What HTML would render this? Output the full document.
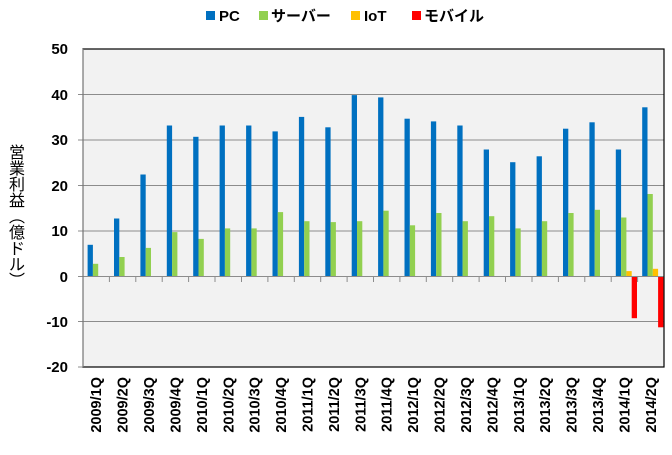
<!DOCTYPE html>
<html><head><meta charset="utf-8"><style>
body{margin:0;background:#fff;width:672px;height:455px;overflow:hidden;font-family:"Liberation Sans","Noto Sans CJK JP",sans-serif}
.c{position:absolute;left:7px;width:20px;text-align:center;font-size:16px;line-height:16px;font-family:"Noto Sans CJK JP",sans-serif;color:#000}
</style></head><body>
<svg width="672" height="455" style="position:absolute;left:0;top:0" font-family="Liberation Sans, Noto Sans CJK JP, sans-serif">
<rect x="83" y="49" width="581" height="318" fill="#f2f2f2"/>
<g stroke="#8c8c8c" stroke-width="1">
<line x1="78" y1="94.5" x2="664" y2="94.5"/><line x1="78" y1="140" x2="664" y2="140"/><line x1="78" y1="185.5" x2="664" y2="185.5"/><line x1="78" y1="231" x2="664" y2="231"/><line x1="78" y1="321.5" x2="664" y2="321.5"/><line x1="78" y1="367" x2="83" y2="367"/><line x1="78" y1="276.5" x2="83" y2="276.5"/>
</g>
<g id="bars"></g>
<line x1="83" y1="276.5" x2="664" y2="276.5" stroke="#8c8c8c"/>
<g id="ticks" stroke="#8c8c8c"></g>
<rect x="83" y="49" width="581" height="318" fill="none" stroke="#000" stroke-width="1.2"/>
<line x1="83" y1="49" x2="83" y2="367" stroke="#8c8c8c"/>
<g font-size="15" font-weight="bold" text-anchor="end">
<text x="68" y="54">50</text><text x="68" y="100">40</text><text x="68" y="145">30</text><text x="68" y="191">20</text><text x="68" y="236">10</text><text x="68" y="282">0</text><text x="68" y="327">-10</text><text x="68" y="372">-20</text>
</g>
<g id="xl" font-size="14.5" font-weight="bold" text-anchor="end"></g>
<g font-size="15" font-weight="bold">
<rect x="206" y="11" width="9" height="9" fill="#0070c0"/><text x="219" y="21">PC</text>
<rect x="259" y="11" width="9" height="9" fill="#92d050"/><text x="271" y="21">サーバー</text>
<rect x="351" y="11" width="9" height="9" fill="#ffc000"/><text x="364" y="21">IoT</text>
<rect x="412" y="11" width="9" height="9" fill="#ff0000"/><text x="424" y="21">モバイル</text>
</g>
</svg>
<div class="c" style="top:143px">営</div>
<div class="c" style="top:159px">業</div>
<div class="c" style="top:175px">利</div>
<div class="c" style="top:191px">益</div>
<div class="c" style="top:207px">︵</div>
<div class="c" style="top:223px">億</div>
<div class="c" style="top:239px">ド</div>
<div class="c" style="top:255px">ル</div>
<div class="c" style="top:271px">︶</div>
<script>
var pc=[7,12.8,22.5,33.3,30.8,33.3,33.3,32,35.2,32.9,40,39.5,34.8,34.2,33.3,28,25.2,26.5,32.6,34,28,37.3];
var sv=[2.8,4.3,6.3,9.8,8.3,10.6,10.6,14.2,12.2,12,12.2,14.5,11.3,14,12.2,13.3,10.6,12.2,14,14.7,13,18.2];
var io=[0,0,0,0,0,0,0,0,0,0,0,0,0,0,0,0,0,0,0,0,1.2,1.7];
var mb=[0,0,0,0,0,0,0,0,0,0,0,0,0,0,0,0,0,0,0,0,-9.2,-11.2];
var labs=[];for(var y=2009;y<=2014;y++)for(var q=1;q<=4;q++)labs.push(y+"/"+q+"Q");labs=labs.slice(0,22);
var cw=581/22,z=276.5,k=4.535,s="",t="",l="";
var cols=["#0070c0","#92d050","#ffc000","#ff0000"],ser=[pc,sv,io,mb];
for(var i=0;i<22;i++){var x0=83+i*cw;
for(var j=0;j<4;j++){var v=ser[j][i];if(!v)continue;var h=Math.abs(v)*k;var y=v>0?z-h:z;
s+='<rect x="'+(x0+4.6+j*5.3).toFixed(1)+'" y="'+y.toFixed(1)+'" width="5.3" height="'+h.toFixed(1)+'" fill="'+cols[j]+'"/>';}
t+='<line x1="'+(x0+cw).toFixed(1)+'" y1="276.5" x2="'+(x0+cw).toFixed(1)+'" y2="282"/>';
var cx=x0+cw/2+5;l+='<text transform="translate('+cx.toFixed(1)+',377) rotate(-90)">'+labs[i]+'</text>';}
document.getElementById("bars").innerHTML=s;document.getElementById("ticks").innerHTML=t;document.getElementById("xl").innerHTML=l;
</script>
</body></html>
